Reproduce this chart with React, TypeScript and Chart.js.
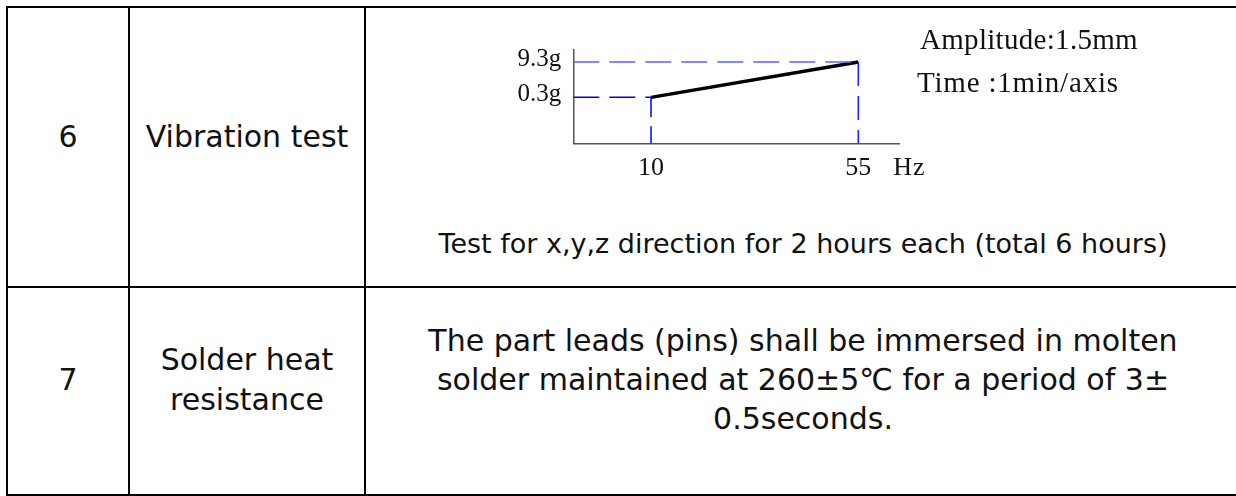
import React, { useEffect, useRef } from "react";
import { Chart, registerables } from "chart.js";

Chart.register(...registerables);

// ---- data ----
const freqPoints = [10, 55]; // Hz
const accelPoints = [0.3, 9.3]; // g
const xTickValues = [10, 55];
const xTickLabels = ["10", "55"];
const yTickValues = [0.3, 9.3];
const yTickLabels = ["0.3g", "9.3g"];
const xUnit = "Hz";
const noteLines = ["Amplitude:1.5mm", "Time :1min/axis"];
const xBounds = [-6.87, 63.83];
const yBounds = [-11.53, 12.54];

const rows = [
  { no: "6", item: ["Vibration test"], desc: ["Test for x,y,z direction for 2 hours each (total 6 hours)"] },
  {
    no: "7",
    item: ["Solder heat", "resistance"],
    desc: [
      "The part leads (pins) shall be immersed in molten",
      "solder maintained at 260±5℃ for a period of 3±",
      "0.5seconds.",
    ],
  },
];

const SERIF = '"Liberation Serif", "Times New Roman", serif';
const SANS = '"DejaVu Sans", "Noto Sans", sans-serif';

function VibrationChart() {
  const ref = useRef<HTMLCanvasElement | null>(null);
  useEffect(() => {
    if (!ref.current) return;
    const xMin = xBounds[0];
    const yMin = yBounds[0];
    const textPlugin = {
      id: "notes",
      afterDraw(chart: any) {
        const ctx = chart.ctx as CanvasRenderingContext2D;
        const area = chart.chartArea;
        const xs = chart.scales.x;
        ctx.save();
        ctx.fillStyle = "#111";
        ctx.textAlign = "left";
        ctx.textBaseline = "alphabetic";
        ctx.font = `29px ${SERIF}`;
        (ctx as any).letterSpacing = "0.3px";
        ctx.fillText(noteLines[0], area.right + 21, area.top + 0);
        (ctx as any).letterSpacing = "0.8px";
        ctx.fillText(noteLines[1], area.right + 18, area.top + 42.4);
        (ctx as any).letterSpacing = "1px";
        ctx.font = `26px ${SERIF}`;
        ctx.fillText(xUnit, xs.getPixelForValue(55) + 35, area.bottom + 31.3);
        ctx.restore();
      },
    };
    const chart = new Chart(ref.current, {
      type: "scatter",
      data: {
        datasets: [
          {
            data: [{ x: xMin, y: accelPoints[1] }, { x: freqPoints[1], y: accelPoints[1] }],
            showLine: true,
            borderColor: "#6262ff",
            borderWidth: 1.6,
            borderDash: [26, 10],
            pointRadius: 0,
          },
          {
            data: [{ x: xMin, y: accelPoints[0] }, { x: freqPoints[0], y: accelPoints[0] }],
            showLine: true,
            borderColor: "#0000f0",
            borderWidth: 1.6,
            borderDash: [26, 10],
            pointRadius: 0,
          },
          {
            data: [{ x: freqPoints[0], y: accelPoints[0] }, { x: freqPoints[0], y: yMin }],
            showLine: true,
            borderColor: "#1010ff",
            borderWidth: 1.6,
            borderDash: [20, 9],
            pointRadius: 0,
          },
          {
            data: [{ x: freqPoints[1], y: accelPoints[1] }, { x: freqPoints[1], y: yMin }],
            showLine: true,
            borderColor: "#2020ff",
            borderWidth: 1.6,
            borderDash: [24, 10],
            pointRadius: 0,
          },
          {
            data: freqPoints.map((f, i) => ({ x: f, y: accelPoints[i] })),
            showLine: true,
            borderColor: "#000",
            borderWidth: 3.4,
            pointRadius: 0,
          },
        ],
      },
      options: {
        responsive: false,
        animation: false,
        devicePixelRatio: 1,
        layout: { padding: { top: 39.3, right: 337, bottom: 0, left: 0 } },
        plugins: { legend: { display: false }, tooltip: { enabled: false } },
        scales: {
          x: {
            type: "linear",
            min: xBounds[0],
            max: xBounds[1],
            afterBuildTicks: (s: any) => {
              s.ticks = xTickValues.map((v) => ({ value: v }));
            },
            afterFit: (s: any) => {
              s.height = 66.3;
            },
            grid: { display: false, drawTicks: false },
            border: { display: true, color: "#555", width: 1.5 },
            ticks: {
              autoSkip: false,
              maxRotation: 0,
              padding: 9,
              color: "#111",
              font: { family: SERIF, size: 26 },
              callback: (v: any) => {
                const i = xTickValues.indexOf(Number(v));
                return i >= 0 ? xTickLabels[i] : "";
              },
            },
          },
          y: {
            type: "linear",
            min: yBounds[0],
            max: yBounds[1],
            afterBuildTicks: (s: any) => {
              s.ticks = yTickValues.map((v) => ({ value: v }));
            },
            afterFit: (s: any) => {
              s.width = 93.3;
            },
            grid: { display: false, drawTicks: false },
            border: { display: true, color: "#555", width: 1.5 },
            ticks: {
              autoSkip: false,
              padding: 12,
              labelOffset: -3,
              color: "#111",
              font: { family: SERIF, size: 25 },
              callback: (v: any) => {
                const i = yTickValues.indexOf(Number(v));
                return i >= 0 ? yTickLabels[i] : "";
              },
            },
          },
        },
      },
      plugins: [textPlugin],
    } as any);
    return () => chart.destroy();
  }, []);
  return (
    <canvas
      ref={ref}
      width={756}
      height={200}
      style={{ position: "absolute", left: 480, top: 10, width: 756, height: 200 }}
    />
  );
}

const lineStyle = { position: "absolute" as const, background: "#000" };

function Cell(props: { left: number; width: number; top: number; size: number; lh: number; lines: string[] }) {
  return (
    <div
      style={{
        position: "absolute",
        left: props.left,
        width: props.width,
        top: props.top,
        fontFamily: SANS,
        fontSize: props.size,
        lineHeight: `${props.lh}px`,
        textAlign: "center",
        color: "#111",
        whiteSpace: "nowrap",
      }}
    >
      {props.lines.map((l, i) => (
        <div key={i}>{l}</div>
      ))}
    </div>
  );
}

export default function App() {
  return (
    <div
      style={{
        position: "fixed",
        left: 0,
        top: 0,
        width: 1236,
        height: 496,
        background: "#fff",
        overflow: "hidden",
      }}
    >
      {/* table rules */}
      <div style={{ ...lineStyle, left: 6, top: 6, width: 1240, height: 2 }} />
      <div style={{ ...lineStyle, left: 6, top: 286, width: 1240, height: 2 }} />
      <div style={{ ...lineStyle, left: 6, top: 494, width: 1240, height: 2 }} />
      <div style={{ ...lineStyle, left: 6, top: 6, width: 2, height: 490 }} />
      <div style={{ ...lineStyle, left: 128, top: 6, width: 2, height: 490 }} />
      <div style={{ ...lineStyle, left: 364, top: 6, width: 2, height: 490 }} />

      <Cell left={8} width={120} top={116.5} size={30} lh={40} lines={[rows[0].no]} />
      <Cell left={130} width={234} top={116.5} size={30} lh={40} lines={rows[0].item} />
      <Cell left={366} width={874} top={226} size={27} lh={36} lines={rows[0].desc} />

      <Cell left={8} width={120} top={359.6} size={30} lh={40} lines={[rows[1].no]} />
      <Cell left={130} width={234} top={340.3} size={30} lh={40} lines={rows[1].item} />
      <Cell left={366} width={874} top={321} size={30} lh={39} lines={rows[1].desc} />

      <VibrationChart />
    </div>
  );
}
